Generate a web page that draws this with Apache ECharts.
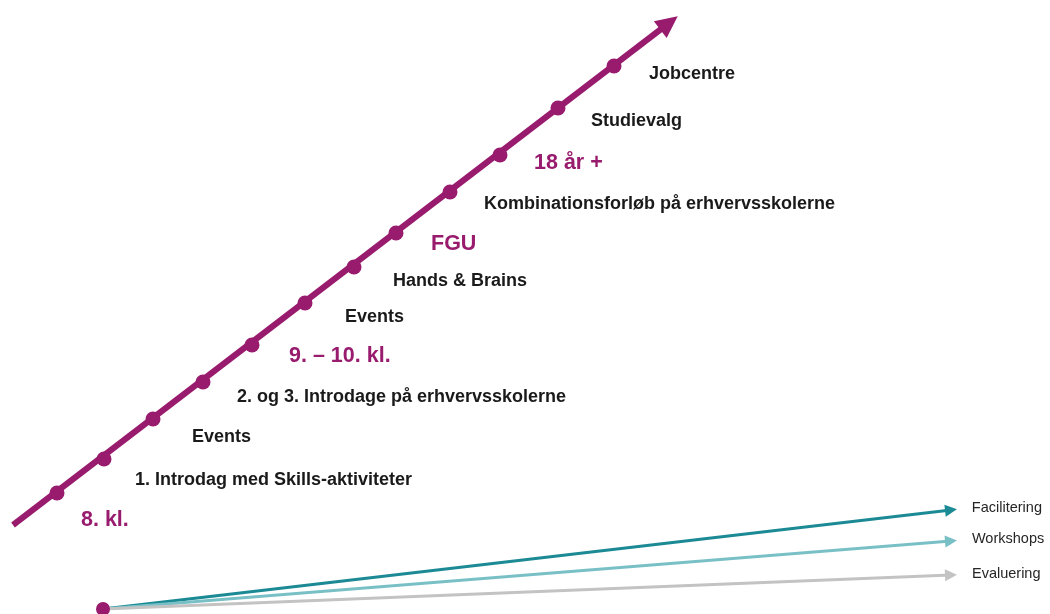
<!DOCTYPE html>
<html>
<head>
<meta charset="utf-8">
<script src="https://cdn.jsdelivr.net/npm/echarts@6/dist/echarts.min.js"></script>
<style>html,body{margin:0;padding:0;background:#fff}#c{width:1050px;height:614px}</style>
</head>
<body>
<div id="c"></div>
<script>
// Timeline milestones (position in a 1050 x 614 progress space, y downward)
var stepX = [57, 104, 153, 203, 252, 305, 354, 396, 450, 500, 558, 614];
var stepY = [493, 459, 419, 382, 345, 303, 267, 233, 192, 155, 108, 66];
var stepLabels = ['8. kl.', '1. Introdag med Skills-aktiviteter', 'Events', '2. og 3. Introdage på erhvervsskolerne',
  '9. – 10. kl.', 'Events', 'Hands & Brains', 'FGU', 'Kombinationsforløb på erhvervsskolerne', '18 år +', 'Studievalg', 'Jobcentre'];
var stepIsStage = [true, false, false, false, true, false, false, true, false, true, false, false];
var labelX = [81, 135, 192, 237, 289, 345, 393, 431, 484, 534, 591, 649];
var labelY = [520, 480, 437, 397, 356, 317, 281, 244, 204, 163, 121, 74];
var axisStart = [13, 525];
var axisEnd = [669, 23];

// Bottom arrows
var arrowNames = ['Facilitering', 'Workshops', 'Evaluering'];
var arrowOrigin = [103, 609];
var arrowEndX = [951, 951, 951];
var arrowEndY = [510, 541, 575];
var arrowColors = ['#1B8A94', '#79C0C6', '#C3C3C3'];

var purple = '#981B6E';

var chart = echarts.init(document.getElementById('c'));
chart.setOption({
  animation: false,
  grid: {left: 0, right: 0, top: 0, bottom: 0},
  xAxis: {type: 'value', min: 0, max: 1050, show: false},
  yAxis: {type: 'value', min: 0, max: 614, inverse: true, show: false},
  series: [
    {
      type: 'lines', coordinateSystem: 'cartesian2d', z: 2,
      symbol: ['none', 'triangle'], symbolSize: [0, [21, 22]],
      lineStyle: {color: purple, width: 6, opacity: 1},
      data: [{coords: [axisStart, axisEnd]}]
    },
    {
      type: 'lines', coordinateSystem: 'cartesian2d', z: 2,
      symbol: ['none', 'triangle'], symbolSize: [0, [12, 12]],
      data: arrowNames.map(function (n, i) {
        return {
          name: n,
          coords: [arrowOrigin, [arrowEndX[i], arrowEndY[i]]],
          lineStyle: {color: arrowColors[i], width: 3, opacity: 1, curveness: 0},
          label: {show: true, position: 'end', distance: 21, formatter: n,
            color: '#262626', fontSize: 14.5, fontFamily: 'Liberation Sans, Arial, sans-serif'}
        };
      })
    },
    {
      type: 'scatter', z: 3, symbol: 'circle', symbolSize: 15,
      itemStyle: {color: purple, opacity: 1},
      data: stepX.map(function (x, i) { return [x, stepY[i]]; })
    },
    {
      type: 'scatter', z: 3, symbol: 'circle', symbolSize: 14,
      itemStyle: {color: purple, opacity: 1},
      data: [arrowOrigin]
    },
    {
      type: 'scatter', z: 4, symbolSize: 0, silent: true,
      itemStyle: {opacity: 1},
      data: labelX.map(function (x, i) {
        return {
          value: [x, labelY[i]],
          label: stepIsStage[i]
            ? {color: purple, fontSize: 21.5, fontWeight: 'bold'}
            : {color: '#1a1a1a', fontSize: 18, fontWeight: 'bold'}
        };
      }),
      label: {
        show: true, position: 'right', distance: 0, opacity: 1,
        fontFamily: 'Liberation Sans, Arial, sans-serif',
        formatter: function (p) { return stepLabels[p.dataIndex]; }
      }
    }
  ]
});
</script>
</body>
</html>
